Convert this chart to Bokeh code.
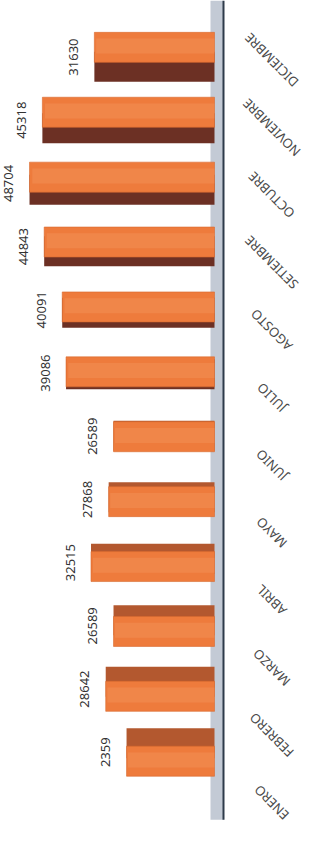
import numpy as np
from bokeh.plotting import figure
from bokeh.models import ColumnDataSource, Range1d
from bokeh.embed import file_html
from bokeh.resources import INLINE
from bokeh.core.properties import value

# ---- data ----
months = ["ENERO", "FEBRERO", "MARZO", "ABRIL", "MAYO", "JUNIO",
          "JULIO", "AGOSTO", "SETIEMBRE", "OCTUBRE", "NOVIEMBRE", "DICIEMBRE"]
sales = [23159, 28642, 26589, 32515, 27868, 26589,
         39086, 40091, 44843, 48704, 45318, 31630]
value_labels = ["2359", "28642", "26589", "32515", "27868", "26589",
                "39086", "40091", "44843", "48704", "45318", "31630"]

# ---- layout ----
W, H = 303, 832
PX_Y = 63.2                 # pixels per category
Y0 = -1.27
Y1 = Y0 + H / PX_Y
PX_X = 263.3                # data units per pixel
X_START = 214 * PX_X
X_END = X_START - W * PX_X
AXIS_X = -9 * PX_X
FLOOR_X = 4 * PX_X

pos = np.arange(len(months))
s = (5.3 - pos) * 3.4 / PX_Y          # 3D depth offset (toward middle)
h = 30 / PX_Y

src = ColumnDataSource(dict(
    month=months,
    val=sales,
    lab=value_labels,
    pos=pos,
    face_y=pos - s / 2,
    side_y=pos + s / 2,
    hi_y=pos - s / 2 + 0.02,
    hi_r=[v * 0.985 for v in sales],
    side_color=["#6C3024" if i >= 6 else "#B3582F" for i in pos],
    cat_off=[(3 + (11 - i) * 4.3) for i in pos],
))

p = figure(width=W, height=H, x_range=Range1d(X_START, X_END),
           y_range=Range1d(Y0, Y1), output_backend="svg",
           toolbar_location=None, min_border=0)
p.axis.visible = False
p.grid.visible = False
p.outline_line_color = None
p.background_fill_color = "white"

# floor and axis line
p.quad(left=FLOOR_X, right=AXIS_X, bottom=-1.07, top=Y1, fill_color="#C3CAD5",
       line_color=None)
p.segment(x0=AXIS_X, x1=AXIS_X, y0=-1.07, y1=Y1, line_color="#2E3B4A",
          line_width=2)

# bars with 3D side
p.hbar(y="side_y", left=0, right="val", height=h, source=src,
       fill_color="side_color", line_color=None)
p.hbar(y="face_y", left=0, right="val", height=h, source=src,
       fill_color="#EE7B3C", line_color="#D8692F", line_width=0.6)
p.hbar(y="hi_y", left=0, right="hi_r", height=h * 0.5, source=src,
       fill_color="#F6A06A", fill_alpha=0.3, line_color=None)

# value labels
p.text(x="val", y="pos", text="lab", source=src, angle=np.pi / 2,
       text_align="center", text_baseline="middle", x_offset=-21,
       text_font_size="13px", text_color="#333333",
       text_font=value("Noto Sans"))

# category labels
p.text(x=0, y="pos", text="month", source=src, angle=3 * np.pi / 4,
       text_align="center", text_baseline="middle", x_offset=57,
       y_offset="cat_off", text_font_size="13px", text_color="#4A4A4A",
       text_font=value("Noto Sans"))

open("out.html", "w").write(file_html(p, INLINE))
